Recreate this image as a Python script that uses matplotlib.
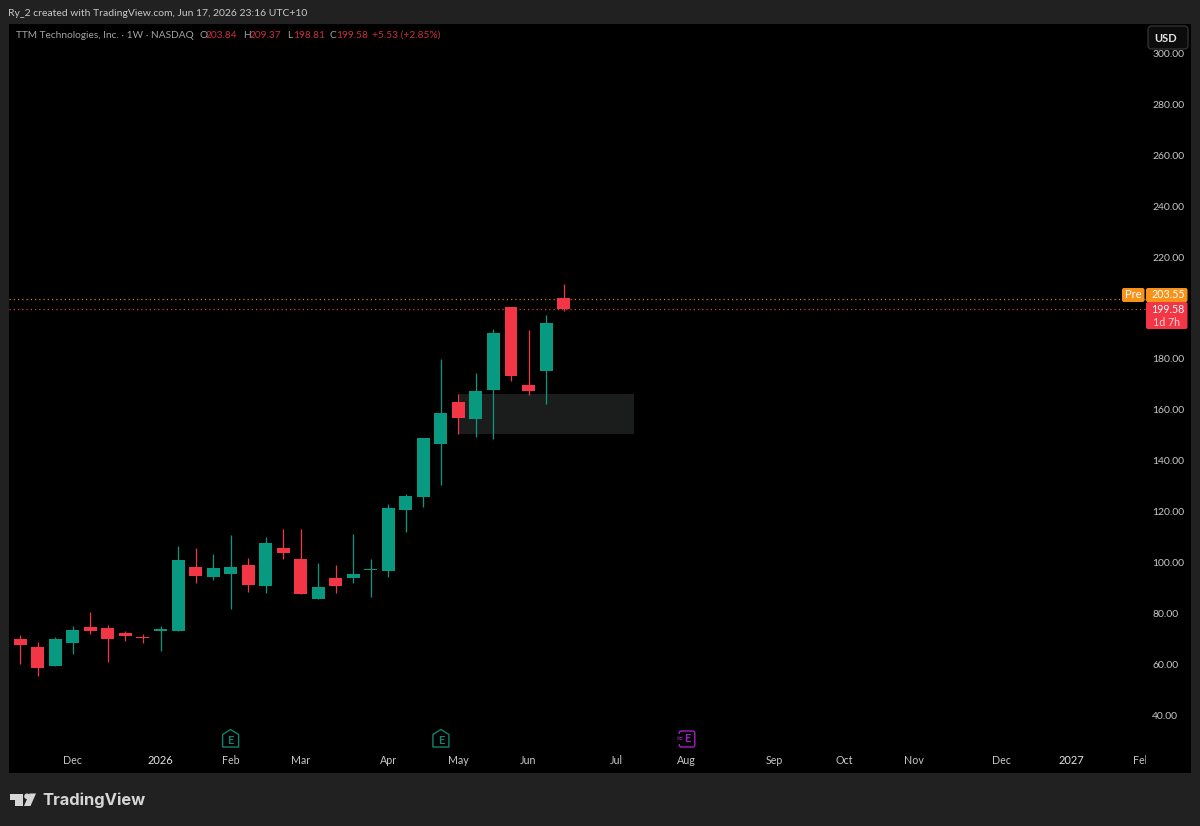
import matplotlib

matplotlib.use("Agg")

import matplotlib.pyplot as plt
from matplotlib.patches import Circle, FancyBboxPatch, Polygon, Rectangle
from matplotlib.transforms import Bbox, TransformedBbox

# weekly OHLC
opens = [70.2, 67.1, 59.7, 68.5, 74.9, 74.5, 72.5, 71.1, 73.4, 73.2, 98.5, 94.5, 95.8, 99.2, 90.9, 106.0,
         101.6, 86.0, 94.1, 94.1, 97.1, 97.0, 120.7, 126.0, 146.5, 163.0, 156.4, 167.8, 200.5, 169.8, 175.3, 203.84]
highs = [71.8, 69.0, 71.1, 75.3, 80.7, 75.6, 73.2, 72.0, 75.3, 106.7, 105.9, 103.5, 111.0, 102.0, 110.3, 113.3,
         113.3, 99.9, 99.1, 111.4, 101.5, 123.1, 126.9, 149.1, 179.9, 166.3, 174.5, 191.6, 200.5, 191.4, 197.1, 209.37]
lows = [60.4, 55.8, 59.7, 64.3, 72.3, 61.3, 69.5, 68.4, 65.5, 73.2, 92.0, 93.3, 82.0, 88.7, 88.1, 101.6,
        87.8, 86.0, 88.1, 92.3, 86.8, 94.6, 112.3, 122.1, 130.7, 150.6, 149.3, 148.6, 171.5, 165.8, 162.4, 198.81]
closes = [67.8, 58.8, 70.1, 73.8, 73.3, 70.2, 71.5, 70.4, 74.1, 101.2, 94.9, 98.2, 98.5, 91.5, 108.0, 103.9,
          87.8, 90.7, 91.1, 95.6, 97.6, 121.6, 126.3, 149.1, 158.9, 157.0, 167.5, 190.0, 173.5, 167.5, 194.1, 199.58]

# 200 is covered by the last price label, so it gets no tick
price_ticks = [40, 60, 80, 100, 120, 140, 160, 180, 220, 240, 260, 280, 300]
month_bars = [3, 8, 12, 16, 21, 25, 29, 34, 38, 43, 47, 51, 56, 60, 64]
month_labels = ["Dec", "2026", "Feb", "Mar", "Apr", "May", "Jun", "Jul", "Aug", "Sep", "Oct", "Nov", "Dec", "2027", "Feb"]
year_labels = ["2026", "2027"]

pre_price = 203.55
last_price = 199.58
zone_bars = [25, 35]
zone_prices = [150.7, 166.1]
earnings_bars = [12, 24]
estimate_bar = 38

UP = "#089981"
DOWN = "#f23645"
PRE = "#f7931a"
FRAME = "#212121"
FONT = "Lato"

W, H = 1200, 826
plt.rcParams["font.family"] = FONT
fig = plt.figure(figsize=(W / 100, H / 100), dpi=100, facecolor=FRAME)

# main pane
left, right, top, bottom = 9, 1191, 24, 773
ax = fig.add_axes([left / W, 1 - bottom / H, (right - left) / W, (bottom - top) / H], facecolor="black")
ax.set_xlim(-0.645, 66.8)
ax.set_ylim(17.6, 311.4)
for spine in ax.spines.values():
    spine.set_visible(False)

bars = range(len(opens))
colors = [UP if c >= o else DOWN for o, c in zip(opens, closes)]
ax.add_patch(Rectangle((zone_bars[0], zone_prices[0]), zone_bars[1] - zone_bars[0],
                       zone_prices[1] - zone_prices[0], facecolor="#1b1d1d", edgecolor="none", zorder=1))
ax.vlines(bars, lows, highs, colors=colors, linewidth=0.9, zorder=3)
ax.bar(bars, [abs(c - o) for o, c in zip(opens, closes)], bottom=[min(o, c) for o, c in zip(opens, closes)],
       width=0.74, color=colors, linewidth=0, zorder=4)

# dotted price lines stop at the scale
line_end = (1146 - left) / (right - left)
ax.plot([0, line_end], [pre_price, pre_price], transform=ax.get_yaxis_transform(), color="#d07a2c",
        linewidth=0.9, linestyle=(0, (1, 2.4)), zorder=2)
ax.plot([0, line_end], [last_price, last_price], transform=ax.get_yaxis_transform(), color="#d0424c",
        linewidth=0.9, linestyle=(0, (1, 2.4)), zorder=2)

ax.set_yticks(price_ticks, [f"{p:.2f}" for p in price_ticks])
ax.yaxis.tick_right()
ax.tick_params(axis="y", length=0, pad=-28, labelsize=7.5, labelcolor="#c8c8c8")
ax.set_xticks(month_bars, month_labels)
ax.tick_params(axis="x", length=0, pad=-13, labelsize=7.7, labelcolor="#c8c8c8")
for label, text in zip(ax.get_xticklabels(), month_labels):
    if text in year_labels:
        label.set_color("#e4e4e4")
        label.set_fontsize(8)
# the last month label runs under the price scale
edge = ax.get_xticklabels()[-1]
edge.set_clip_box(TransformedBbox(Bbox([[0, 0], [1146 / W, 1]]), fig.transFigure))
edge.set_clip_on(True)

# everything else sits on a pixel overlay
ui = fig.add_axes([0, 0, 1, 1], facecolor="none")
ui.set_xlim(0, W)
ui.set_ylim(H, 0)
ui.axis("off")


def bar_px(i):
    lo, hi = ax.get_xlim()
    return left + (i - lo) / (hi - lo) * (right - left)


def badge(x0, y0, x1, y1, color, edge="none", r=2):
    ui.add_patch(FancyBboxPatch((x0 + r, y0 + r), x1 - x0 - 2 * r, y1 - y0 - 2 * r,
                                boxstyle=f"round,pad={r},rounding_size={r}", facecolor=color,
                                edgecolor=edge, linewidth=1))


ui.text(8, 13, "Ry_2 created with TradingView.com, Jun 17, 2026 23:16 UTC+10", color="#c8c8c8",
        fontsize=7.45, va="center")

# legend row
GREY = "#a3a3a3"
VALUE = "#cc2f3f"
legend_bits = [
    (16, "TTM Technologies, Inc. · 1W · NASDAQ", GREY),
    (199, "O", GREY), (206, "203.84", VALUE),
    (243, "H", GREY), (250, "209.37", VALUE),
    (287, "L", GREY), (293, "198.81", VALUE),
    (329, "C", GREY), (336, "199.58", VALUE),
    (372, "+5.53 (+2.85%)", VALUE),
]
for x, text, color in legend_bits:
    ui.text(x, 35.5, text, color=color, fontsize=7.25, va="center")

# currency button
badge(1148, 26, 1188, 49, "#0c0c0c", edge="#303030", r=4)
ui.text(1165.5, 38, "USD", color="#e6e6e6", fontsize=8, ha="center", va="center", fontweight="bold")

# price scale labels
badge(1122, 288, 1144.5, 302, PRE)
ui.text(1133, 295, "Pre", color="white", fontsize=8, ha="center", va="center")
badge(1146, 288, 1187.5, 302, PRE)
ui.text(1168, 295, f"{pre_price:.2f}", color="white", fontsize=7.7, ha="center", va="center")
badge(1146, 302, 1187.5, 329, DOWN)
ui.text(1168, 309.5, f"{last_price:.2f}", color="white", fontsize=7.7, ha="center", va="center")
ui.text(1153, 322, "1d 7h", color="#f8d0d4", fontsize=7.7, va="center")


# earnings markers
def earnings_mark(x):
    y0, y1 = 729.5, 747
    house = [(x - 8, y0 + 5), (x, y0), (x + 8, y0 + 5), (x + 8, y1), (x - 8, y1)]
    ui.add_patch(Polygon(house, closed=True, joinstyle="round", facecolor="none", edgecolor="#12806b", linewidth=1))
    ui.text(x, y0 + 10.5, "E", color="#12806b", fontsize=8, fontweight="bold", ha="center", va="center")


for i in earnings_bars:
    earnings_mark(bar_px(i))

est_x = bar_px(estimate_bar)
badge(est_x - 7, 731, est_x + 8.5, 747, "none", edge="#a61fc4", r=2)
ui.text(est_x + 1, 739, "E", color="#a61fc4", fontsize=8, fontweight="bold", ha="center", va="center")
ui.text(est_x - 7.5, 739, "≈", color="#a61fc4", fontsize=6.5, ha="center", va="center", family="DejaVu Sans",
        bbox=dict(facecolor="black", edgecolor="none", pad=0.3))

# logo
LOGO = "#d6d6d6"
ui.add_patch(Polygon([(10, 793.5), (22.5, 793.5), (22.5, 806), (15, 806), (15, 799.5), (10, 799.5)], closed=True,
                     facecolor=LOGO, edgecolor="none"))
ui.add_patch(Circle((27, 796.3), 2.8, facecolor=LOGO, edgecolor="none"))
ui.add_patch(Polygon([(29.5, 793.5), (36, 793.5), (30.5, 806), (24, 806)], closed=True, facecolor=LOGO,
                     edgecolor="none"))
ui.text(42, 800, "TradingView", color=LOGO, fontsize=11.9, fontweight="bold", va="center", family="Inter")

fig.savefig("out.png", dpi=100, facecolor=FRAME)
